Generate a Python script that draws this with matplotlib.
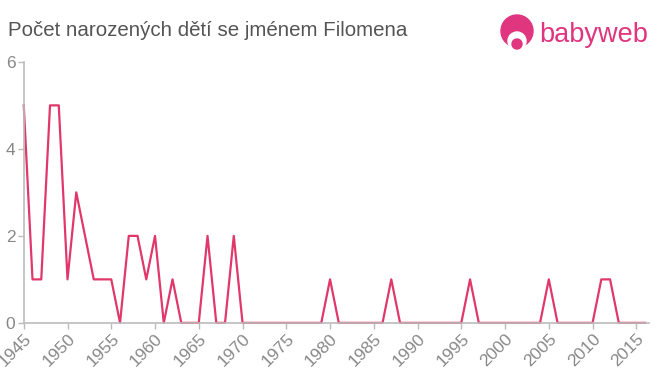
import matplotlib.pyplot as plt
from matplotlib.patches import Ellipse

plt.rcParams['font.family'] = ['Liberation Sans', 'DejaVu Sans']

years = list(range(1945, 2017))
counts = [5, 1, 1, 5, 5, 1, 3, 2, 1, 1,
          1, 0, 2, 2, 1, 2, 0, 1, 0, 0,
          0, 2, 0, 0, 2, 0, 0, 0, 0, 0,
          0, 0, 0, 0, 0, 1, 0, 0, 0, 0,
          0, 0, 1, 0, 0, 0, 0, 0, 0, 0,
          0, 1, 0, 0, 0, 0, 0, 0, 0, 0,
          1, 0, 0, 0, 0, 0, 1, 1, 0, 0,
          0, 0]
xticks = list(range(1945, 2016, 5))
yticks = [0, 2, 4, 6]

pink = '#e0386a'

fig = plt.figure(figsize=(6.6, 3.75), dpi=100)
ax = fig.add_axes([0.036, 0.139, 0.948, 0.696])
ax.plot(years, counts, color=pink, lw=1.6, clip_on=False)

ax.set_xlim(1945, 2016.5)
ax.set_ylim(0, 6)
ax.set_xticks(xticks)
ax.set_xticklabels([str(y) for y in xticks], rotation=45, ha='right',
                   rotation_mode='anchor')
ax.set_yticks(yticks)
ax.tick_params(colors='#bbbbbb', labelcolor='#888888', labelsize=12.5,
               length=4, width=1)
ax.tick_params(axis='x', pad=2)
ax.tick_params(axis='y', pad=2)
for s in ['top', 'right']:
    ax.spines[s].set_visible(False)
for s in ['left', 'bottom']:
    ax.spines[s].set_color('#bbbbbb')
    ax.spines[s].set_linewidth(1.2)

fig.text(0.012, 0.918, 'Počet narozených dětí se jménem Filomena',
         fontsize=14.8, color='#555555', va='center')

# babyweb logo: pink head, white face, pink pacifier
logo = '#e0357f'
def blob(cx, cy, r, c):
    fig.patches.append(Ellipse((cx / 660, 1 - cy / 375), 2 * r / 660,
                               2 * r / 375, transform=fig.transFigure,
                               color=c, figure=fig))
blob(517, 31, 16, logo)
blob(517, 41, 9, 'white')
blob(517, 44, 5, logo)
fig.text(539 / 660, 1 - 35 / 375, 'babyweb', fontsize=19.5, color=logo,
         va='center')

fig.savefig('out.png')
